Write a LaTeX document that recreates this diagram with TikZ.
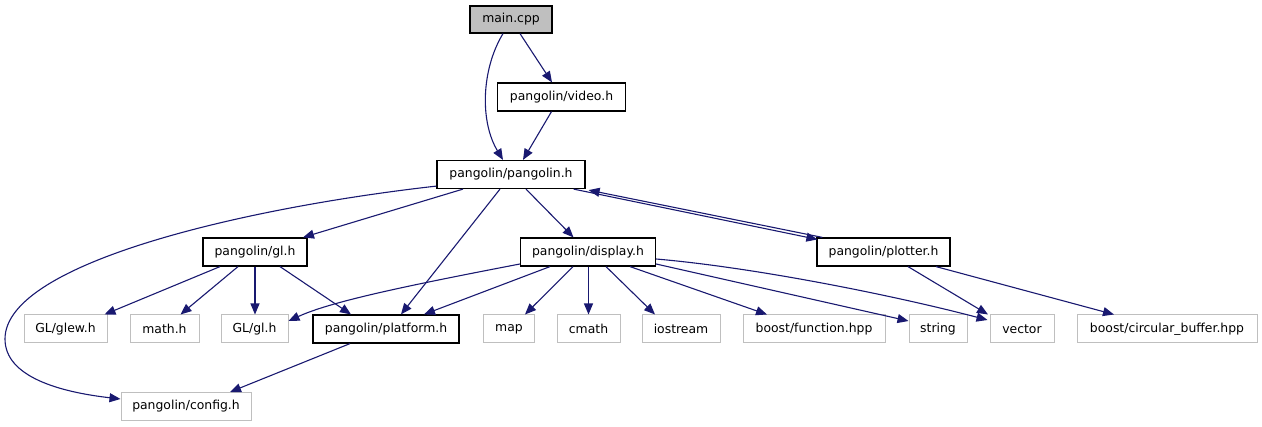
\documentclass[tikz,border=0pt]{standalone}
\usepackage{fontspec}
\setmainfont{DejaVu Sans}
\usetikzlibrary{arrows.meta}
\definecolor{edgeblue}{RGB}{25,25,112}
\definecolor{extgray}{RGB}{191,191,191}
\begin{document}
\begin{tikzpicture}[x=1pt,y=-1pt,
  box/.style={draw=black,line width=1.2pt,minimum height=28pt,inner sep=0pt,font=\fontsize{12.4}{14}\selectfont,fill=white},
  ext/.style={box,draw=extgray,line width=1pt},
  edge/.style={draw=edgeblue,line width=1.1pt,-{Triangle[length=11pt,width=9pt]}}]
\useasboundingbox (0,0) rectangle (1262,427);
\node[box,fill=extgray,minimum width=82pt,minimum height=27pt] (main) at (511,19.5) {main.cpp};
\node[box,minimum width=128pt] (video) at (561.5,97) {pangolin/video.h};
\node[box,minimum width=148pt] (pangolin) at (511,174.5) {pangolin/pangolin.h};
\node[box,minimum width=104pt] (gl) at (255,252) {pangolin/gl.h};
\node[box,minimum width=135pt] (display) at (588,252) {pangolin/display.h};
\node[box,minimum width=133pt] (plotter) at (883.5,252) {pangolin/plotter.h};
\node[ext,minimum width=83pt] (glew) at (65.5,329) {GL/glew.h};
\node[ext,minimum width=69pt] (math) at (164.5,329) {math.h};
\node[ext,minimum width=67pt] (glgl) at (254.5,329) {GL/gl.h};
\node[box,minimum width=146pt] (platform) at (386,329) {pangolin/platform.h};
\node[ext,minimum width=51pt] (map) at (509,329) {map};
\node[ext,minimum width=63pt] (cmath) at (588.5,329) {cmath};
\node[ext,minimum width=78pt] (iostream) at (681,329) {iostream};
\node[ext,minimum width=142pt] (function) at (814,329) {boost/function.hpp};
\node[ext,minimum width=58pt] (string) at (938,329) {string};
\node[ext,minimum width=64pt] (vector) at (1022,329) {vector};
\node[ext,minimum width=180pt] (circular) at (1167,329) {boost/circular\_buffer.hpp};
\node[ext,minimum width=130pt] (config) at (186,406.5) {pangolin/config.h};
\coordinate (leftmost) at (5,339);

\draw[edge] ([xshift=-8pt]main.south) .. controls (481,70) and (480,122) .. ([xshift=-8pt]pangolin.north);
\draw[edge] ([xshift=9pt]main.south) -- ([xshift=-9.5pt]video.north);
\draw[edge] ([xshift=-10pt]video.south) -- ([xshift=12pt]pangolin.north);
\draw[edge] ([yshift=3pt]pangolin.south west) .. controls (250,207) and (5,262) .. (leftmost)
  .. controls (5,377) and (60,392) .. ([yshift=-7pt]config.north west);
\draw[edge] ([xshift=-48pt]pangolin.south) -- ([xshift=48pt]gl.north);
\draw[edge] ([xshift=-11pt]pangolin.south) -- ([xshift=15pt]platform.north);
\draw[edge] ([xshift=15pt]pangolin.south) -- ([xshift=-14.5pt]display.north);
\draw[edge] ([xshift=-12pt]pangolin.south east) -- ([xshift=1pt,yshift=-2pt]plotter.north west);
\draw[edge] ([xshift=6pt]plotter.north west) -- ([xshift=3pt,yshift=-1pt]pangolin.south east);
\draw[edge] ([xshift=-35pt]gl.south) -- ([xshift=39pt]glew.north);
\draw[edge] ([xshift=-17pt]gl.south) -- ([xshift=16pt]math.north);
\draw[edge] (gl.south) -- ([xshift=0.5pt]glgl.north);
\draw[edge] ([xshift=25pt]gl.south) -- ([xshift=-35pt]platform.north);
\draw[edge] ([yshift=-12pt]display.west) .. controls (400,287) and (330,302) .. ([yshift=8pt]glgl.east);
\draw[edge] ([xshift=-38pt]display.south) -- ([xshift=38pt]platform.north);
\draw[edge] ([xshift=-15pt]display.south) -- ([xshift=16pt]map.north);
\draw[edge] ([xshift=0.5pt]display.south) -- (cmath.north);
\draw[edge] ([xshift=18pt]display.south) -- ([xshift=-26pt]iostream.north);
\draw[edge] ([xshift=42pt]display.south) -- ([xshift=-47pt]function.north);
\draw[edge] ([yshift=-12pt]display.east) -- ([yshift=8pt]string.west);
\draw[edge] ([yshift=-7pt]display.east) .. controls (760,268) and (900,297) .. ([xshift=-2pt,yshift=9pt]vector.west);
\draw[edge] ([xshift=24.5pt]plotter.south) -- ([xshift=-34pt]vector.north);
\draw[edge] ([xshift=52.5pt]plotter.south) -- ([xshift=-53pt]circular.north);
\draw[edge] ([xshift=-36pt]platform.south) -- ([xshift=44pt]config.north);
\end{tikzpicture}
\end{document}
